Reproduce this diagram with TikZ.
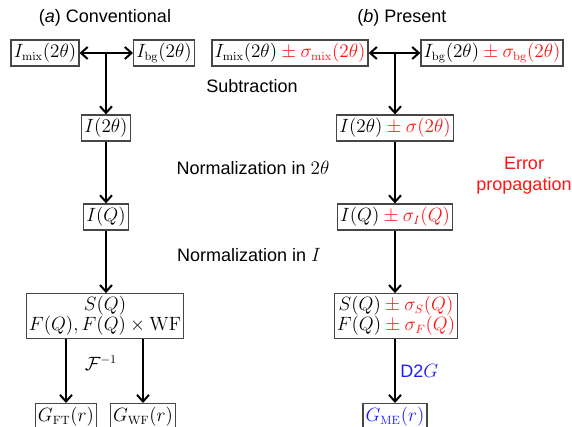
\documentclass[tikz,border=0pt]{standalone}
\usepackage{amsmath}
\usepackage[no-math]{fontspec}
\setmainfont{Liberation Sans}
\usepackage{xcolor}
\usetikzlibrary{positioning,arrows.meta}

\definecolor{errred}{RGB}{255,20,20}
\definecolor{dtgblue}{RGB}{30,30,240}
\definecolor{boxgray}{RGB}{70,70,70}
\newcommand{\witherr}[1]{\mathbin{\color{errred}\pm}{\color{errred}#1}}

\tikzset{
    quantity/.style={draw=boxgray, line width=0.9pt, inner sep=2pt, minimum height=19.5pt},
    flow/.style={line width=1.5pt, >={Straight Barb[length=5pt, width=9pt, line width=1.5pt]}, ->},
    step label/.style={inner sep=1pt}
}

\begin{document}
\begin{tikzpicture}[x=0.75pt, y=-0.75pt, font=\fontsize{13.5}{16}\selectfont]
    \useasboundingbox (0,0) rectangle (572,426);

    \node (titleA) at (105,18) {(\textit{a}) Conventional};
    \node (titleB) at (402,18) {(\textit{b}) Present};

    % conventional route
    \node [quantity] (mixA) at (45,53) {$I_{\mathrm{mix}}(2\theta)$};
    \node [quantity] (bgA) at (164,53) {$I_{\mathrm{bg}}(2\theta)$};
    \node [quantity] (ittA) at (106,128) {$I(2\theta)$};
    \node [quantity] (iqA) at (106,217) {$I(Q)$};
    \node [quantity, align=center] (sqA) at (105,316) {$S(Q)$\\[-1pt]$F(Q), F(Q)\times\mathrm{WF}$};
    \node [quantity, anchor=north] (gftA) at (66,403) {$G_{\mathrm{FT}}(r)$};
    \node [quantity, anchor=north] (gwfA) at (143,403) {$G_{\mathrm{WF}}(r)$};
    \coordinate (subA) at (ittA |- mixA);

    \draw[flow, <->] (mixA) -- (bgA);
    \draw[flow] (subA) -- (ittA);
    \draw[flow] (ittA) -- (iqA);
    \draw[flow] (iqA) -- (iqA |- sqA.north);
    \draw[flow] (sqA.south -| gftA) -- (gftA);
    \draw[flow] (sqA.south -| gwfA) -- (gwfA);
    \node (finv) at (101,363) {$\mathcal{F}^{-1}$};

    % present route
    \node [quantity] (mixB) at (290,53) {$I_{\mathrm{mix}}(2\theta)\witherr{\sigma_{\mathrm{mix}}(2\theta)}$};
    \node [quantity] (bgB) at (492,53) {$I_{\mathrm{bg}}(2\theta)\witherr{\sigma_{\mathrm{bg}}(2\theta)}$};
    \node [quantity] (ittB) at (395,128) {$I(2\theta)\witherr{\sigma(2\theta)}$};
    \node [quantity] (iqB) at (395,217) {$I(Q)\witherr{\sigma_I(Q)}$};
    \node [quantity, align=center] (sqB) at (396,316) {$S(Q)\witherr{\sigma_S(Q)}$\\[-1pt]$F(Q)\witherr{\sigma_F(Q)}$};
    \node [quantity, anchor=north, text=dtgblue] (gmeB) at (iqB.south |- gftA.north) {$G_{\mathrm{ME}}(r)$};
    \coordinate (subB) at (ittB |- mixB);

    \draw[flow, <->] (mixB) -- (bgB);
    \draw[flow] (subB) -- (ittB);
    \draw[flow] (ittB) -- (iqB);
    \draw[flow] (iqB) -- (iqB |- sqB.north);
    \draw[flow] (sqB.south -| gmeB) -- node[right, text=dtgblue] {D2$G$} (gmeB);

    % step labels
    \node [step label] (subtr) at (252,86) {Subtraction};
    \node [step label] (norm2t) at (253,168) {Normalization in $2\theta$};
    \node [step label] (normi) at (249,255) {Normalization in $I$};
    \node [step label, text=errred, align=center] (errprop) at (524,176) {Error\\propagation};
\end{tikzpicture}
\end{document}
